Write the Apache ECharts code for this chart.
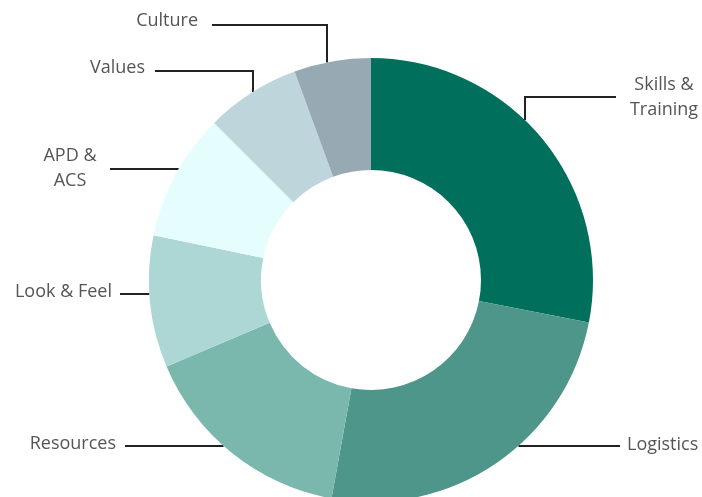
<!DOCTYPE html>
<html>
<head>
<meta charset="utf-8">
<script src="https://cdn.jsdelivr.net/npm/echarts@6/dist/echarts.min.js"></script>
<style>
html,body{margin:0;padding:0;background:#fff;}
#main{width:702px;height:497px;}
</style>
</head>
<body>
<div id="main"></div>
<script>
// ---- data ----
var categories = ['Skills & Training', 'Logistics', 'Resources', 'Look & Feel', 'APD & ACS', 'Values', 'Culture'];
var labelTexts = ['Skills &\nTraining', 'Logistics', 'Resources', 'Look & Feel', 'APD &\nACS', 'Values', 'Culture'];
var values = [28.1, 24.8, 15.8, 9.6, 9.3, 6.9, 5.6];
var colors = ['#006f5c', '#4e968a', '#7ab8ad', '#acd7d4', '#e6fdfd', '#bed5dc', '#97a9b2'];

// ---- layout (label placement only) ----
var CX = 371, CY = 280, R_IN = 110, R_OUT = 222;
// type: 'h' = horizontal line from arc at lineY; 'v' = elbow from arc at anchorX
var labelPlace = [
  {x: 664, y: 97, align: 'center', type: 'v', ax: 525, ly: 97, end: 616},
  {x: 627, y: 445, align: 'left', type: 'h', ly: 446, end: 620},
  {x: 116, y: 444, align: 'right', type: 'h', ly: 446, end: 125},
  {x: 112, y: 292, align: 'right', type: 'h', ly: 294, end: 120},
  {x: 70, y: 168, align: 'center', type: 'h', ly: 169, end: 110},
  {x: 145, y: 68, align: 'right', type: 'v', ax: 253, ly: 71, end: 155},
  {x: 198, y: 21, align: 'right', type: 'v', ax: 327, ly: 25, end: 212}
];

function arcXAtY(y, side) {
  var dy = y - CY;
  var dx = Math.sqrt(Math.max(0, R_OUT * R_OUT - dy * dy));
  return side > 0 ? CX + dx : CX - dx;
}
function arcYAtX(x) {
  var dx = x - CX;
  return CY - Math.sqrt(Math.max(0, R_OUT * R_OUT - dx * dx));
}

var chart = echarts.init(document.getElementById('main'), null, {renderer: 'canvas'});
var option = {
  animation: false,
  backgroundColor: '#ffffff',
  series: [{
    type: 'pie',
    center: [CX, CY],
    radius: [R_IN, R_OUT],
    startAngle: 90,
    clockwise: true,
    avoidLabelOverlap: false,
    data: categories.map(function (c, i) {
      return {name: c, value: values[i], itemStyle: {color: colors[i]}};
    }),
    itemStyle: {borderWidth: 0},
    emphasis: {disabled: true},
    label: {
      show: true,
      position: 'outside',
      formatter: function (p) { return labelTexts[p.dataIndex]; },
      fontFamily: 'Open Sans',
      fontSize: 18,
      lineHeight: 25,
      color: '#555555'
    },
    labelLine: {
      show: true,
      length: 10,
      length2: 10,
      lineStyle: {color: '#222222', width: 2}
    },
    labelLayout: function (params) {
      var p = labelPlace[params.dataIndex];
      var pts;
      if (p.type === 'h') {
        var side = p.end > CX ? 1 : -1;
        var ax = arcXAtY(p.ly, side);
        pts = [[ax, p.ly], [ax, p.ly], [p.end, p.ly]];
      } else {
        var ay = arcYAtX(p.ax);
        pts = [[p.ax, ay], [p.ax, p.ly], [p.end, p.ly]];
      }
      return {
        x: p.x,
        y: p.y,
        align: p.align,
        verticalAlign: 'middle',
        labelLinePoints: pts
      };
    }
  }]
};
chart.setOption(option);
</script>
</body>
</html>
